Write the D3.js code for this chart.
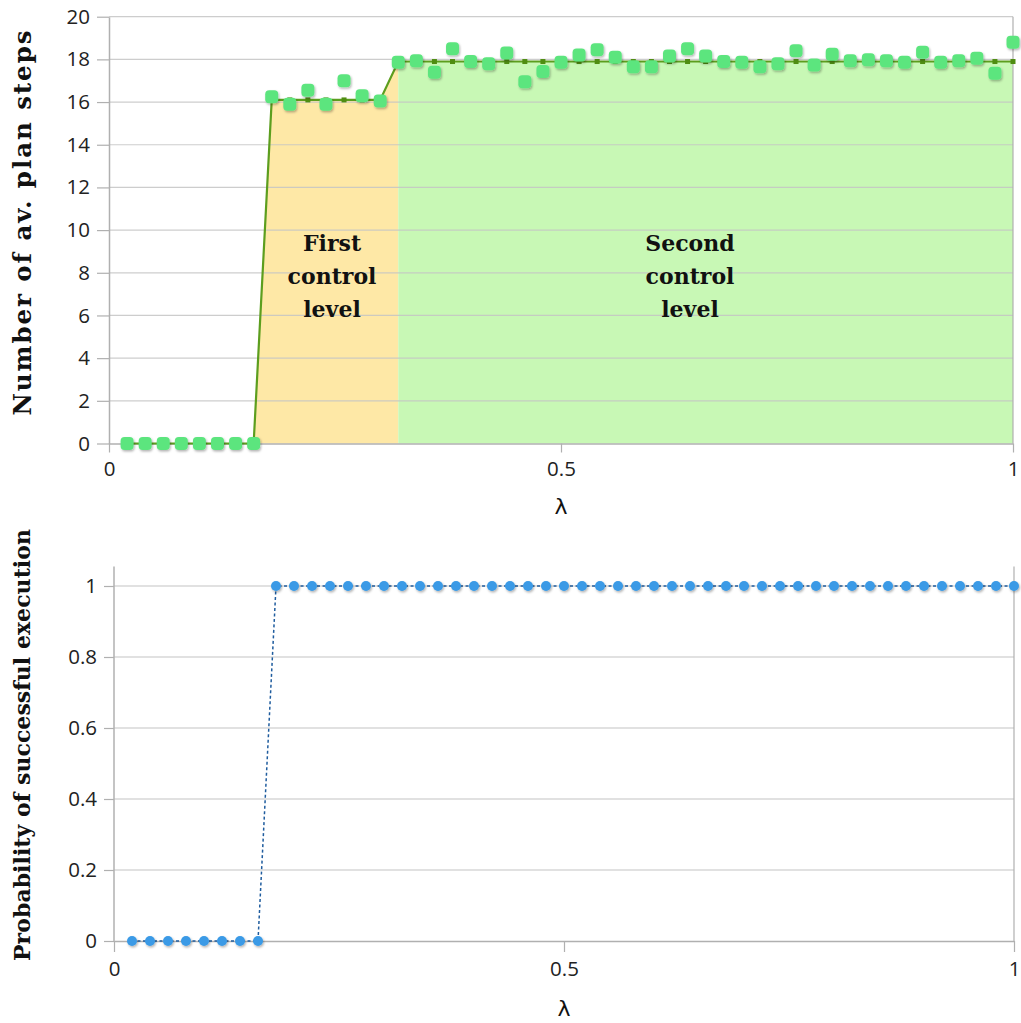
<!DOCTYPE html>
<html>
<head>
<meta charset="utf-8">
<script src="https://cdn.jsdelivr.net/npm/d3@7"></script>
<style>
  html, body { margin: 0; padding: 0; background: #fff; }
  svg { display: block; }
  .tick text { font-family: 'Open Sans', sans-serif; font-size: 20.5px; fill: #222; }
  .title { font-family: 'DejaVu Serif', serif; font-weight: bold; fill: #111; }
</style>
</head>
<body>
<svg id="chart" width="1021" height="1023"></svg>
<script>
// lambda values shared by both panels
const lambdaVals = [0.02, 0.04, 0.06, 0.08, 0.10, 0.12, 0.14, 0.16, 0.18, 0.20,
  0.22, 0.24, 0.26, 0.28, 0.30, 0.32, 0.34, 0.36, 0.38, 0.40,
  0.42, 0.44, 0.46, 0.48, 0.50, 0.52, 0.54, 0.56, 0.58, 0.60,
  0.62, 0.64, 0.66, 0.68, 0.70, 0.72, 0.74, 0.76, 0.78, 0.80,
  0.82, 0.84, 0.86, 0.88, 0.90, 0.92, 0.94, 0.96, 0.98, 1.00];

// measured number of plan steps (scatter)
const planSteps = [0, 0, 0, 0, 0, 0, 0, 0,
  16.25, 15.9, 16.55, 15.9, 17.0, 16.3, 16.05,
  17.87, 17.93, 17.4, 18.5, 17.9, 17.8, 18.3, 16.95, 17.43, 17.87,
  18.2, 18.45, 18.1, 17.66, 17.66, 18.16, 18.5, 18.16, 17.9, 17.87,
  17.66, 17.8, 18.4, 17.74, 18.24, 17.93, 17.98, 17.93, 17.87, 18.33,
  17.87, 17.93, 18.05, 17.35, 18.8];

// control level (step line)
const levelSteps = [0, 0, 0, 0, 0, 0, 0, 0,
  16.1, 16.1, 16.1, 16.1, 16.1, 16.1, 16.1,
  17.9, 17.9, 17.9, 17.9, 17.9, 17.9, 17.9, 17.9, 17.9, 17.9,
  17.9, 17.9, 17.9, 17.9, 17.9, 17.9, 17.9, 17.9, 17.9, 17.9,
  17.9, 17.9, 17.9, 17.9, 17.9, 17.9, 17.9, 17.9, 17.9, 17.9,
  17.9, 17.9, 17.9, 17.9, 17.9];

// probability of successful execution
const successProb = [0, 0, 0, 0, 0, 0, 0, 0,
  1, 1, 1, 1, 1, 1, 1, 1, 1, 1, 1, 1, 1, 1, 1, 1, 1,
  1, 1, 1, 1, 1, 1, 1, 1, 1, 1, 1, 1, 1, 1, 1, 1, 1,
  1, 1, 1, 1, 1, 1, 1, 1];

// shaded zones [from, to] in lambda
const firstZone = [0.16, 0.32];
const secondZone = [0.32, 1.00];

const xTicks = [0, 0.5, 1];
const yTicksTop = [0, 2, 4, 6, 8, 10, 12, 14, 16, 18, 20];
const yTicksBottom = [0, 0.2, 0.4, 0.6, 0.8, 1];

const firstLabel = ['First', 'control', 'level'];
const secondLabel = ['Second', 'control', 'level'];

const svg = d3.select('#chart');

const defs = svg.append('defs');
const shadow = defs.append('filter').attr('id', 'shadow')
  .attr('x', '-50%').attr('y', '-50%').attr('width', '200%').attr('height', '200%');
shadow.append('feDropShadow')
  .attr('dx', 1).attr('dy', 1.5).attr('stdDeviation', 1)
  .attr('flood-color', '#000').attr('flood-opacity', 0.3);

const rows = lambdaVals.map((l, i) => ({
  l: l, steps: planSteps[i], level: levelSteps[i], prob: successProb[i]
}));

const gridColor = '#c4c4c4';
const axisColor = '#b0b0b0';

// ---------- top panel ----------
const xT = d3.scaleLinear().domain([0, 1]).range([109, 1013]);
const yT = d3.scaleLinear().domain([0, 20]).range([443.5, 16.7]);

const topPanel = svg.append('g');

const area = d3.area()
  .x((d) => xT(d.l))
  .y0(yT(0))
  .y1((d) => yT(d.level));

topPanel.append('path')
  .datum(rows.filter((d) => d.l >= firstZone[0] - 1e-9 && d.l <= firstZone[1] + 1e-9))
  .attr('d', area)
  .attr('fill', '#fee8a6');

topPanel.append('path')
  .datum(rows.filter((d) => d.l >= secondZone[0] - 1e-9 && d.l <= secondZone[1] + 1e-9))
  .attr('d', area)
  .attr('fill', '#c8f8b5');

topPanel.append('g')
  .selectAll('line')
  .data(yTicksTop.slice(1))
  .enter()
  .append('line')
  .attr('x1', xT(0)).attr('x2', xT(1))
  .attr('y1', (d) => yT(d)).attr('y2', (d) => yT(d))
  .attr('stroke', gridColor).attr('stroke-opacity', 0.85).attr('stroke-width', 1.2);

topPanel.append('g')
  .attr('transform', `translate(${xT(0)},0)`)
  .call(d3.axisLeft(yT).tickValues(yTicksTop).tickFormat((d) => String(d))
    .tickSizeInner(12).tickSizeOuter(0).tickPadding(7));
topPanel.append('g')
  .attr('transform', `translate(0,${yT(0)})`)
  .call(d3.axisBottom(xT).tickValues(xTicks).tickFormat((d) => String(d))
    .tickSizeInner(9).tickSizeOuter(0).tickPadding(9));

topPanel.append('line')
  .attr('x1', xT(1)).attr('x2', xT(1))
  .attr('y1', yT(0)).attr('y2', yT(20))
  .attr('stroke', axisColor).attr('stroke-width', 1.2);

const line = d3.line().x((d) => xT(d.l)).y((d) => yT(d.level));
topPanel.append('path')
  .datum(rows)
  .attr('d', line)
  .attr('fill', 'none')
  .attr('stroke', '#5c9e1e')
  .attr('stroke-width', 2.2);

topPanel.append('g')
  .selectAll('rect')
  .data(rows)
  .enter()
  .append('rect')
  .attr('x', (d) => xT(d.l) - 2.5)
  .attr('y', (d) => yT(d.level) - 2.5)
  .attr('width', 5).attr('height', 5)
  .attr('fill', '#4f8d12');

topPanel.append('g')
  .selectAll('rect')
  .data(rows)
  .enter()
  .append('rect')
  .attr('x', (d) => xT(d.l) - 6.5)
  .attr('y', (d) => yT(d.steps) - 6.5)
  .attr('width', 13).attr('height', 13)
  .attr('rx', 4)
  .attr('fill', '#5ce57e')
  .attr('filter', 'url(#shadow)');

// zone labels
const zoneText = (lines, cx) => {
  topPanel.append('g')
    .selectAll('text')
    .data(lines)
    .enter()
    .append('text')
    .attr('class', 'title')
    .attr('x', cx)
    .attr('y', (d, i) => 251 + i * 33)
    .attr('text-anchor', 'middle')
    .style('font-size', '22px')
    .text((d) => d);
};
zoneText(firstLabel, 332);
zoneText(secondLabel, 690);

topPanel.append('text')
  .attr('class', 'title')
  .attr('transform', 'translate(31,223) rotate(-90)')
  .attr('text-anchor', 'middle')
  .attr('textLength', 385)
  .style('font-size', '24.5px')
  .text('Number of av. plan steps');

topPanel.append('text')
  .attr('x', xT(0.5)).attr('y', 514)
  .attr('text-anchor', 'middle')
  .style('font-family', 'DejaVu Sans, sans-serif')
  .style('font-size', '22px')
  .attr('fill', '#111')
  .text('λ');

// ---------- bottom panel ----------
const xB = d3.scaleLinear().domain([0, 1]).range([114, 1014]);
const yB = d3.scaleLinear().domain([0, 1]).range([941, 586]);
const yBTop = 1.055;

const botPanel = svg.append('g');

botPanel.append('g')
  .selectAll('line')
  .data(yTicksBottom.slice(1))
  .enter()
  .append('line')
  .attr('x1', xB(0)).attr('x2', xB(1))
  .attr('y1', (d) => yB(d)).attr('y2', (d) => yB(d))
  .attr('stroke', gridColor).attr('stroke-width', 1.2);

const yAxisB = botPanel.append('g')
  .attr('transform', `translate(${xB(0)},0)`)
  .call(d3.axisLeft(yB).tickValues(yTicksBottom).tickFormat((d) => String(d))
    .tickSizeInner(10).tickSizeOuter(0).tickPadding(7));
yAxisB.select('.domain').attr('d', `M0,${yB(0)}V${yB(yBTop)}`);

botPanel.append('g')
  .attr('transform', `translate(0,${yB(0)})`)
  .call(d3.axisBottom(xB).tickValues(xTicks).tickFormat((d) => String(d))
    .tickSizeInner(11).tickSizeOuter(0).tickPadding(9));

botPanel.append('line')
  .attr('x1', xB(1)).attr('x2', xB(1))
  .attr('y1', yB(0)).attr('y2', yB(yBTop))
  .attr('stroke', axisColor).attr('stroke-width', 1.2);

const lineB = d3.line().x((d) => xB(d.l)).y((d) => yB(d.prob));
botPanel.append('path')
  .datum(rows)
  .attr('d', lineB)
  .attr('fill', 'none')
  .attr('stroke', '#1f5c9e')
  .attr('stroke-width', 1.5)
  .attr('stroke-dasharray', '3,2.5');

botPanel.append('g')
  .selectAll('circle')
  .data(rows)
  .enter()
  .append('circle')
  .attr('cx', (d) => xB(d.l))
  .attr('cy', (d) => yB(d.prob))
  .attr('r', 5)
  .attr('fill', '#3a9ae6')
  .attr('filter', 'url(#shadow)');

botPanel.append('text')
  .attr('class', 'title')
  .attr('transform', 'translate(30,745) rotate(-90)')
  .attr('text-anchor', 'middle')
  .attr('textLength', 432)
  .style('font-size', '22px')
  .text('Probability of successful execution');

botPanel.append('text')
  .attr('x', xB(0.5)).attr('y', 1016)
  .attr('text-anchor', 'middle')
  .style('font-family', 'DejaVu Sans, sans-serif')
  .style('font-size', '22px')
  .attr('fill', '#111')
  .text('λ');

// axis styling
svg.selectAll('.domain').attr('stroke', axisColor).attr('stroke-width', 1.5);
svg.selectAll('.tick line').attr('stroke', axisColor).attr('stroke-width', 1.2);
</script>
</body>
</html>
